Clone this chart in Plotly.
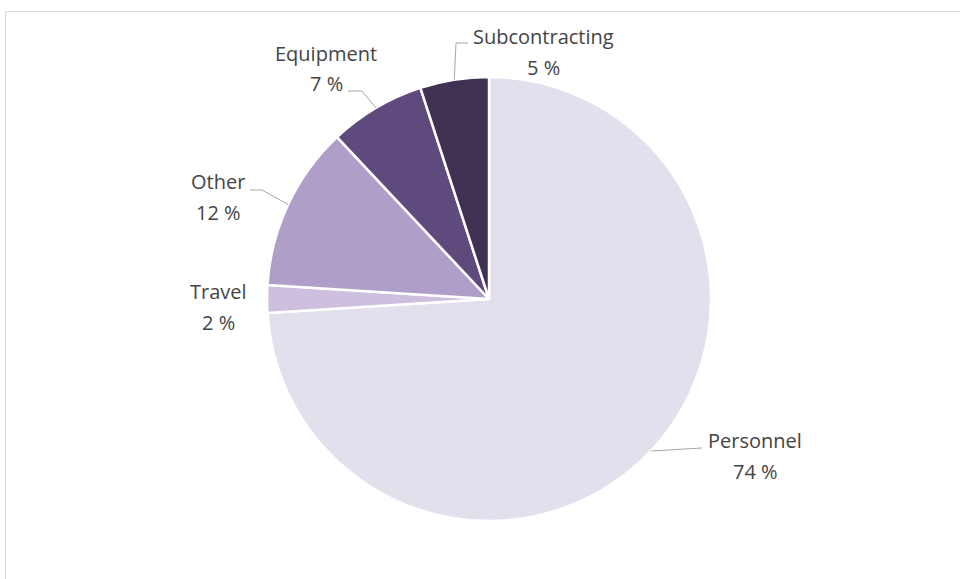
import math
import plotly.graph_objects as go

# Budget breakdown (percent of total), clockwise from 12 o'clock
categories = ["Personnel", "Travel", "Other", "Equipment", "Subcontracting"]
shares = [74, 2, 12, 7, 5]
colors = ["#E4DFEC", "#CDBFDD", "#AF9EC7", "#5E4A7D", "#3F3152"]

W, H = 960, 579
CX, CY, R = 489, 299, 222  # pie centre and radius in pixels


def px(x, y):
    """Pixel position -> paper coordinates (zero margins)."""
    return x / W, 1 - y / H


# Label text centres (pixels) and leader-line elbows, per category
label_pos = {
    "Personnel": (755, 440),
    "Travel": (218, 291),
    "Other": (218, 182),
    "Equipment": (326, 53),
    "Subcontracting": (543, 36),
}
leader_elbows = {
    "Personnel": [(702, 448)],
    "Other": [(262, 190), (250, 190)],
    "Equipment": [(362, 91), (348, 91)],
    "Subcontracting": [(456, 43), (468, 43)],
}
LINE_GAP = 31

fig = go.Figure(
    go.Pie(
        labels=categories,
        values=shares,
        sort=False,
        direction="clockwise",
        rotation=0,
        marker=dict(colors=colors, line=dict(color="white", width=2.5)),
        textinfo="none",
        hoverinfo="label+percent",
        showlegend=False,
        domain=dict(
            x=[(CX - R) / W, (CX + R) / W],
            y=[1 - (CY + R) / H, 1 - (CY - R) / H],
        ),
    )
)

font = dict(family="Open Sans", size=20, color="#444444")
annotations = []
shapes = []
total = sum(shares)
cum = 0
for name, val in zip(categories, shares):
    mid = (cum + val / 2) / total * 2 * math.pi
    cum += val
    ex, ey = CX + R * math.sin(mid), CY - R * math.cos(mid)
    lx, ly = label_pos[name]
    for text, yy in ((name, ly), (f"{round(val / total * 100)} %", ly + LINE_GAP)):
        x, y = px(lx, yy)
        annotations.append(dict(x=x, y=y, xref="paper", yref="paper", text=text,
                                showarrow=False, font=font,
                                xanchor="center", yanchor="middle"))
    if name in leader_elbows:
        pts = [(ex, ey)] + leader_elbows[name]
        path = ""
        for i, (x0, y0) in enumerate(pts):
            xp, yp = px(x0, y0)
            path += ("M" if i == 0 else " L") + f" {xp:.5f},{yp:.5f}"
        shapes.append(dict(type="path", path=path, xref="paper", yref="paper",
                           line=dict(color="#A6A6A6", width=1)))

# chart area frame
x0, y0 = px(5.5, 11.5)
shapes.append(dict(type="rect", xref="paper", yref="paper", x0=x0, y0=-0.01,
                   x1=1.01, y1=y0, line=dict(color="#D9D9D9", width=1),
                   fillcolor="rgba(0,0,0,0)", layer="below"))

fig.update_layout(
    width=W,
    height=H,
    margin=dict(l=0, r=0, t=0, b=0),
    paper_bgcolor="white",
    plot_bgcolor="white",
    annotations=annotations,
    shapes=shapes,
)

fig.write_html("out.html")
